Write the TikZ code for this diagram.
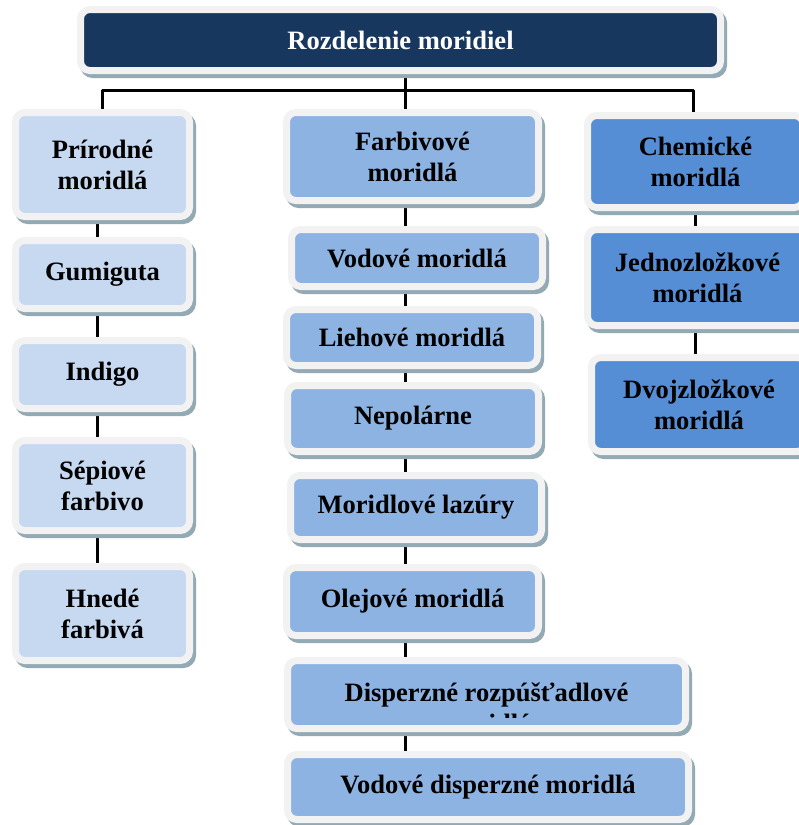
\documentclass[tikz,border=0pt]{standalone}
\usepackage{fontspec}
\setmainfont{Liberation Serif}
\pgfdeclarelayer{bg}
\pgfsetlayers{bg,main}
\definecolor{navy}{HTML}{17375E}
\definecolor{lightc}{HTML}{C6D9F1}
\definecolor{midc}{HTML}{8DB3E2}
\definecolor{chemc}{HTML}{558ED5}
\definecolor{framec}{HTML}{F2F2F2}
\definecolor{shadowc}{HTML}{93A9B4}
\tikzset{
  box/.style={rectangle, rounded corners=7pt, draw=framec, line width=5.25pt,
    preaction={draw=shadowc, fill=shadowc, line width=5.25pt,
      transform canvas={shift={(2.25pt,-3pt)}}},
    inner sep=0pt, align=center, text=black,
    font=\fontsize{19.9pt}{23.3pt}\selectfont\bfseries},
  conn/.style={draw=black, line width=2.25pt},
  txt/.style={inner sep=0pt, text=black, font=\fontsize{19.9pt}{23.3pt}\selectfont\bfseries}
}
\begin{document}
\begin{tikzpicture}[x=0.75pt,y=-0.75pt]
\useasboundingbox (0,0) rectangle (799,825);
\clip (0,0) rectangle (799,825);
% top
\node[box, fill=navy, text=white, minimum width=480pt, minimum height=45.75pt] (top) at (400.5,40) {Rozdelenie moridiel};
% left column
\node[box, fill=lightc, minimum width=130.5pt, minimum height=78pt] (prir) at (102.5,164.5) {Prírodné\\moridlá};
\node[box, fill=lightc, minimum width=130.5pt, minimum height=51pt] (gum) at (102.5,274.5) {Gumiguta};
\node[box, fill=lightc, minimum width=130.5pt, minimum height=51pt] (ind) at (102.5,374.5) {Indigo};
\node[box, fill=lightc, minimum width=130.5pt, minimum height=67.5pt] (sep) at (102.5,485.5) {Sépiové\\farbivo};
\node[box, fill=lightc, minimum width=130.5pt, minimum height=70.5pt] (hned) at (102.5,613.5) {Hnedé\\farbivá};
% middle column
\node[box, fill=midc, minimum width=189pt, minimum height=66pt] (farb) at (412.5,156.5) {Farbivové\\moridlá};
\node[box, fill=midc, minimum width=188.25pt, minimum height=42.75pt] (vod) at (417,258) {Vodové moridlá};
\node[box, fill=midc, minimum width=188.25pt, minimum height=42pt] (lieh) at (412,337.5) {Liehové moridlá};
\node[box, fill=midc, minimum width=188.25pt, minimum height=49.5pt] (nep) at (413,418.5) {Nepolárne};
\node[box, fill=midc, minimum width=188.25pt, minimum height=48pt] (laz) at (416,507.5) {Moridlové lazúry};
\node[box, fill=midc, minimum width=189pt, minimum height=51pt] (olej) at (412.5,601.5) {Olejové moridlá};
\node[box, fill=midc, minimum width=298.5pt, minimum height=51pt] (disp) at (486.5,694.5) {};
\begin{scope}
  \clip (291,664) rectangle (682,717);
  \node[txt, anchor=base] (disp1) at (486.5,701) {Disperzné rozpúšťadlové};
  \node[txt, anchor=base] (disp2) at (486.5,732) {moridlá};
\end{scope}
\node[box, fill=midc, minimum width=300.75pt, minimum height=48.75pt] (vdisp) at (488,787) {Vodové disperzné moridlá};
% right column
\node[box, fill=chemc, minimum width=162pt, minimum height=69pt] (chem) at (695.5,161.5) {Chemické\\moridlá};
\node[box, fill=chemc, minimum width=165pt, minimum height=72pt] (jedno) at (697.5,277.5) {Jednozložkové\\moridlá};
\node[box, fill=chemc, minimum width=161.25pt, minimum height=70.5pt] (dvoj) at (699,404.5) {Dvojzložkové\\moridlá};
% connectors
\coordinate (L0) at (102,90);
\coordinate (M0) at (405,90);
\coordinate (R0) at (693,90);
\coordinate (LX) at (97.5,0);
\coordinate (RX) at (695,0);
\begin{pgfonlayer}{bg}
\draw[conn, line join=round] (prir.north -| L0) |- (R0) -- (chem.north -| R0);
\draw[conn] (top.south -| M0) -- (farb.north -| M0);
\draw[conn] (prir.south -| LX) -- (gum.north -| LX);
\draw[conn] (gum.south -| LX) -- (ind.north -| LX);
\draw[conn] (ind.south -| LX) -- (sep.north -| LX);
\draw[conn] (sep.south -| LX) -- (hned.north -| LX);
\draw[conn] (farb.south -| M0) -- (vod.north -| M0);
\draw[conn] (vod.south -| M0) -- (lieh.north -| M0);
\draw[conn] (lieh.south -| M0) -- (nep.north -| M0);
\draw[conn] (nep.south -| M0) -- (laz.north -| M0);
\draw[conn] (laz.south -| M0) -- (olej.north -| M0);
\draw[conn] (olej.south -| M0) -- (disp.north -| M0);
\draw[conn] (disp.south -| M0) -- (vdisp.north -| M0);
\draw[conn] (chem.south -| RX) -- (jedno.north -| RX);
\draw[conn] (jedno.south -| RX) -- (dvoj.north -| RX);
\end{pgfonlayer}
\end{tikzpicture}
\end{document}
